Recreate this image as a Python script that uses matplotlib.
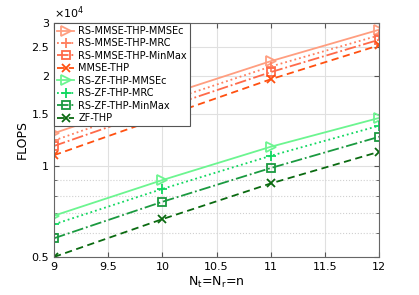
import matplotlib
matplotlib.use('Agg')
import matplotlib.pyplot as plt
from matplotlib.ticker import FixedLocator, NullFormatter, LogLocator

n = [9, 10, 11, 12]

# FLOPS (x 1e4)
rs_mmse_mmsec = [1.29, 1.71, 2.24, 2.85]
rs_mmse_mrc = [1.22, 1.63, 2.15, 2.73]
rs_mmse_minmax = [1.17, 1.56, 2.06, 2.64]
mmse_thp = [1.09, 1.46, 1.95, 2.53]
rs_zf_mmsec = [0.686, 0.901, 1.163, 1.45]
rs_zf_mrc = [0.642, 0.842, 1.085, 1.366]
rs_zf_minmax = [0.577, 0.763, 0.988, 1.255]
zf_thp = [0.50, 0.668, 0.878, 1.119]

labels = ['RS-MMSE-THP-MMSEc', 'RS-MMSE-THP-MRC', 'RS-MMSE-THP-MinMax', 'MMSE-THP',
          'RS-ZF-THP-MMSEc', 'RS-ZF-THP-MRC', 'RS-ZF-THP-MinMax', 'ZF-THP']
yticks = [0.5, 1, 1.5, 2, 2.5, 3]

series = [rs_mmse_mmsec, rs_mmse_mrc, rs_mmse_minmax, mmse_thp,
          rs_zf_mmsec, rs_zf_mrc, rs_zf_minmax, zf_thp]
colors = ['#ff9e80', '#ff8060', '#ff6a4a', '#ff5010',
          '#6cf590', '#10d860', '#1a9a40', '#0a6a10']
styles = ['-', ':', '-.', (0, (4, 2.5)), '-', ':', '-.', (0, (4, 2.5))]
markers = ['>', '+', 's', 'x', '>', '+', 's', 'x']
sizes = [7.5, 7, 5.5, 5.5, 7.5, 7, 5.5, 5.5]

fig = plt.figure(figsize=(4.19, 2.95), dpi=100)
ax = fig.add_axes([0.129, 0.129, 0.776, 0.793])

for vals, lab, c, ls, m, ms in zip(series, labels, colors, styles, markers, sizes):
    ax.plot(n, [v * 1e4 for v in vals], linestyle=ls, marker=m, color=c, label=lab,
            linewidth=1.3, markersize=ms, markerfacecolor='none', markeredgewidth=1.3)

ax.set_yscale('log')
ax.set_xlim(9, 12)
ax.set_ylim(5000, 30000)
ax.yaxis.set_major_locator(FixedLocator([t * 1e4 for t in yticks]))
ax.set_yticklabels([f'{t:g}' for t in yticks])
ax.yaxis.set_minor_locator(LogLocator(base=10, subs=range(1, 10)))
ax.yaxis.set_minor_formatter(NullFormatter())
ax.set_xticks([9, 9.5, 10, 10.5, 11, 11.5, 12])
ax.set_xticklabels(['9', '9.5', '10', '10.5', '11', '11.5', '12'])

ax.grid(True, which='major', color='#e0e0e0', linewidth=0.8)
ax.grid(True, which='minor', axis='y', color='#d0d0d0', linestyle=':', linewidth=0.8)
ax.tick_params(which='both', direction='in', labelsize=8, color='#555555')
ax.tick_params(which='minor', length=2)
ax.tick_params(top=True, right=True, which='both')
for s in ax.spines.values():
    s.set_color('#666666')

ax.set_xlabel('N$_\\mathregular{t}$=N$_\\mathregular{r}$=n', fontsize=9, labelpad=2)
ax.set_ylabel('FLOPS', fontsize=9, labelpad=2)
ax.text(0.0, 1.01, '$\\times10^4$', transform=ax.transAxes, fontsize=8, ha='left', va='bottom')

leg = ax.legend(loc='upper left', fontsize=7, frameon=True, fancybox=False,
                edgecolor='#555555', framealpha=1, borderpad=0.3, labelspacing=0.25,
                handlelength=1.8, handletextpad=0.4, borderaxespad=0)
leg.get_frame().set_linewidth(0.8)

fig.savefig('out.png', dpi=100)
